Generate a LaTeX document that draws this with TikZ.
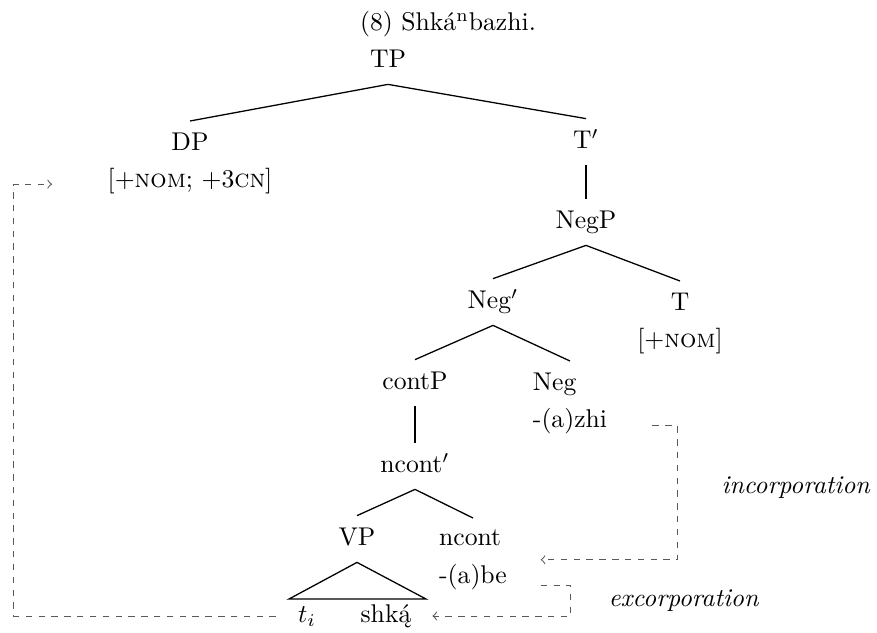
\documentclass[tikz,border=0pt]{standalone}
\usepackage{tikz}

\begin{document}
\begin{tikzpicture}
    [x=0.39pt,y=-0.39pt,
     every node/.style={inner sep=4.5pt},
     cat/.style={text height=1.6ex,text depth=.45ex},
     branch/.style={line width=0.5pt},
     mv/.style={draw=black!65,line width=0.4pt,dash pattern=on 2.5pt off 2.5pt,->,>=to}]
    \useasboundingbox (0,0) rectangle (877,632);

    \node (title) at (448,24) {(8) Shká\textsuperscript{n}bazhi.};
    \node[cat] (tp) at (388,61) {TP};
    \node[anchor=north,align=center] (dp) at (190,121) {DP\\[2.5pt]{[}+\textsc{nom}; +3\textsc{cn}]};
    \node[cat] (tbar) at (586,142) {T$'$};
    \node[cat] (negp) at (586,222) {NegP};
    \node[cat] (negbar) at (493,302) {Neg$'$};
    \node[anchor=north,align=center] (t) at (680,281) {T\\[2.5pt]{[}+\textsc{nom}]};
    \node[cat] (contp) at (415,383) {contP};
    \node[anchor=north,align=left] (neg) at (570,361) {Neg\\[2.5pt]-(a)zhi};
    \node[cat] (ncontbar) at (415,466) {ncont$'$};
    \node[cat] (vp) at (357,539) {VP};
    \node[anchor=north,align=left] (ncont) at (473,518) {ncont\\[2.5pt]-(a)be};
    \node[cat] (ti) at (307,616) {$t_i$};
    \node[cat] (shka) at (386,616) {shką́};

    \draw[branch] (tp.south) -- (dp.north);
    \draw[branch] (tp.south) -- (tbar.north);
    \draw[branch] (tbar.south) -- (negp.north);
    \draw[branch] (negp.south) -- (negbar.north);
    \draw[branch] (negp.south) -- (t.north);
    \draw[branch] (negbar.south) -- (contp.north);
    \draw[branch] (negbar.south) -- (neg.north);
    \draw[branch] (contp.south) -- (ncontbar.north);
    \draw[branch] (ncontbar.south) -- (vp.north);
    \draw[branch] (ncontbar.south) -- (ncont.north);

    \coordinate (tril) at (289,599);
    \coordinate (trir) at (426,599);
    \draw[branch] (vp.south) -- (tril) -- (trir) -- cycle;

    % movement paths
    \coordinate (dpin) at ([xshift=-17pt,yshift=-8pt]dp.west);
    \draw[mv] ([xshift=-4pt]ti.west) -- ++(-262,0) |- (dpin);
    \coordinate (incs) at ([xshift=13pt,yshift=8pt]neg.south east);
    \draw[mv] (incs) -- ++(25,0) |- ([xshift=8.5pt]ncont.east);
    \coordinate (excs) at ([xshift=8.5pt,yshift=-10pt]ncont.east);
    \draw[mv] (excs) -- ++(30,0) |- ([xshift=3.5pt]shka.east);

    \node (inc) at (796,488) {\textit{incorporation}};
    \node (exc) at (684,601) {\textit{excorporation}};
\end{tikzpicture}
\end{document}
